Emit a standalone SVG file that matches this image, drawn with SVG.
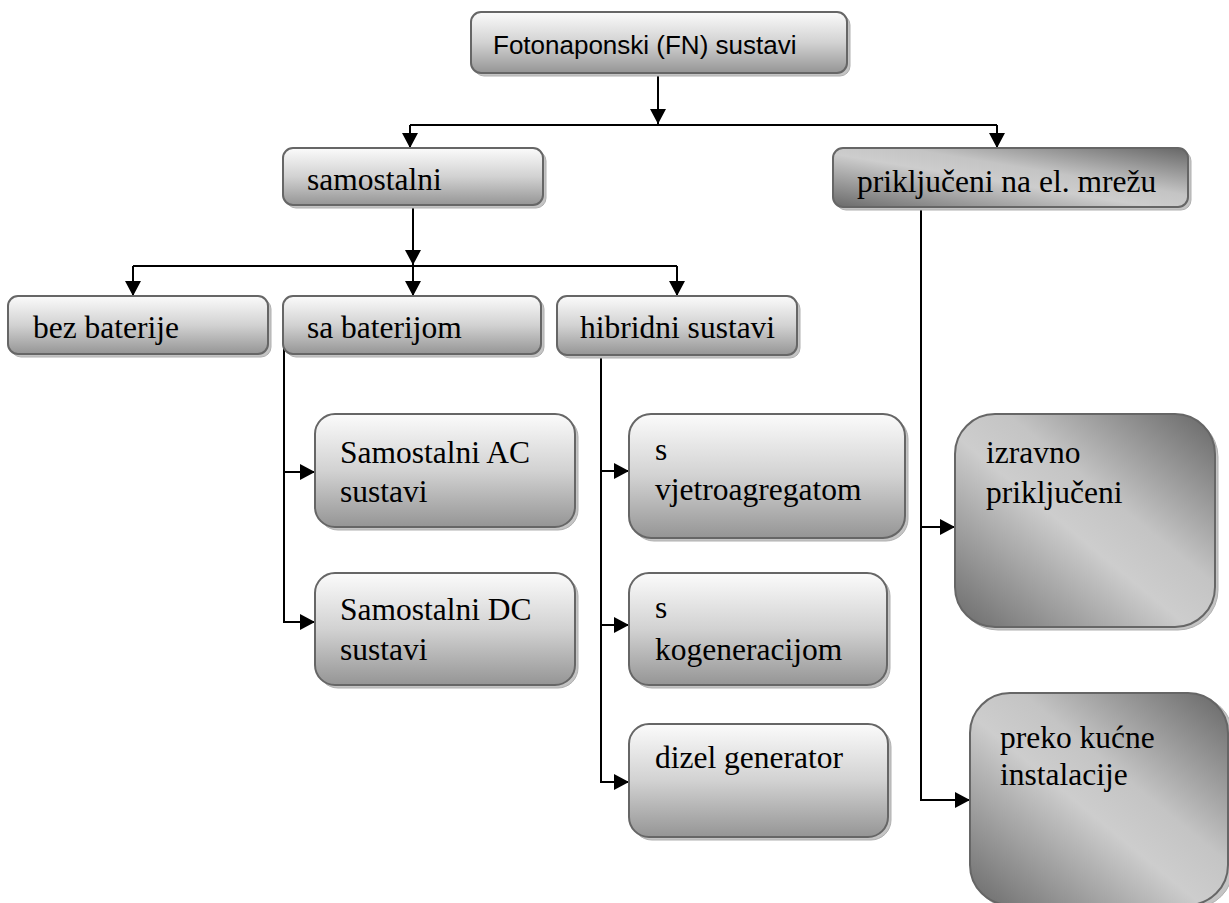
<svg xmlns="http://www.w3.org/2000/svg" width="1229" height="903" viewBox="0 0 1229 903">
<style>
.box{stroke:#666;stroke-width:2;fill:url(#gv)}
.dbox{stroke:#666;stroke-width:2;fill:url(#gd)}
.sh{fill:#c4c4c4;stroke:#b0b0b0;stroke-width:1}
.t{font-family:"Liberation Serif","Times New Roman",serif;font-size:31.5px;fill:#000}
.ts{font-family:"Liberation Sans",Arial,sans-serif;font-size:26px;fill:#000}
.c{fill:none;stroke:#000;stroke-width:2}
.a{marker-end:url(#ah)}
</style>
<defs>
<linearGradient id="gv" x1="0" y1="0" x2="0" y2="1">
<stop offset="0" stop-color="#fbfbfb"/>
<stop offset="0.5" stop-color="#d2d2d2"/>
<stop offset="1" stop-color="#959595"/>
</linearGradient>
<linearGradient id="gd" x1="0" y1="1" x2="1" y2="0">
<stop offset="0" stop-color="#6a6a6a"/>
<stop offset="0.45" stop-color="#cdcdcd"/>
<stop offset="0.6" stop-color="#c4c4c4"/>
<stop offset="1" stop-color="#666"/>
</linearGradient>
<marker id="ah" markerUnits="userSpaceOnUse" markerWidth="16" markerHeight="16" refX="15" refY="8" orient="auto">
<path d="M0,0 L15,8 L0,16 z" fill="#000"/>
</marker>
</defs>

<g id="connectors">
<path class="c a" d="M658,73 V124"/>
<path class="c" d="M410,125 H997"/>
<path class="c a" d="M410,125 V148"/>
<path class="c a" d="M997,125 V148"/>
<path class="c a" d="M413,206 V265"/>
<path class="c" d="M133,266 H677"/>
<path class="c a" d="M133,266 V296"/>
<path class="c a" d="M413,266 V296"/>
<path class="c a" d="M677,266 V296"/>
<path class="c a" d="M284,337 V622 H315"/>
<path class="c a" d="M284,472 H315"/>
<path class="c a" d="M601,355 V782 H629"/>
<path class="c a" d="M601,471 H629"/>
<path class="c a" d="M601,625 H629"/>
<path class="c a" d="M921,207 V800 H970"/>
<path class="c a" d="M921,527 H955"/>
</g>

<g id="n-top">
<rect class="sh" x="474" y="15" width="376" height="61" rx="10"/>
<rect class="box" x="471" y="12" width="376" height="61" rx="10"/>
<text class="ts" x="493" y="54">Fotonaponski (FN) sustavi</text>
</g>

<g id="n-samostalni">
<rect class="sh" x="286" y="151" width="260" height="57" rx="10"/>
<rect class="box" x="283" y="148" width="260" height="57" rx="10"/>
<text class="t" x="307" y="190">samostalni</text>
</g>

<g id="n-prikljuceni">
<rect class="sh" x="836" y="151" width="355" height="59" rx="10"/>
<rect class="dbox" x="833" y="148" width="355" height="59" rx="10"/>
<text class="t" x="857" y="192">priključeni na el. mrežu</text>
</g>

<g id="n-bez">
<rect class="sh" x="11" y="299" width="260" height="58" rx="10"/>
<rect class="box" x="8" y="296" width="260" height="58" rx="10"/>
<text class="t" x="33" y="338">bez baterije</text>
</g>

<g id="n-sa">
<rect class="sh" x="286" y="299" width="258" height="58" rx="10"/>
<rect class="box" x="283" y="296" width="258" height="58" rx="10"/>
<text class="t" x="307" y="338">sa baterijom</text>
</g>

<g id="n-hibridni">
<rect class="sh" x="560" y="299" width="240" height="59" rx="10"/>
<rect class="box" x="557" y="296" width="240" height="59" rx="10"/>
<text class="t" x="580" y="338">hibridni sustavi</text>
</g>

<g id="n-ac">
<rect class="sh" x="318" y="417" width="260" height="113" rx="20"/>
<rect class="box" x="315" y="414" width="260" height="113" rx="20"/>
<text class="t" x="340" y="463">Samostalni AC</text>
<text class="t" x="340" y="502">sustavi</text>
</g>

<g id="n-dc">
<rect class="sh" x="318" y="576" width="260" height="112" rx="20"/>
<rect class="box" x="315" y="573" width="260" height="112" rx="20"/>
<text class="t" x="340" y="620">Samostalni DC</text>
<text class="t" x="340" y="660">sustavi</text>
</g>

<g id="n-vjetro">
<rect class="sh" x="632" y="417" width="276" height="124" rx="22"/>
<rect class="box" x="629" y="414" width="276" height="124" rx="22"/>
<text class="t" x="655" y="460">s</text>
<text class="t" x="655" y="500">vjetroagregatom</text>
</g>

<g id="n-kogen">
<rect class="sh" x="632" y="576" width="258" height="112" rx="20"/>
<rect class="box" x="629" y="573" width="258" height="112" rx="20"/>
<text class="t" x="655" y="618">s</text>
<text class="t" x="655" y="660">kogeneracijom</text>
</g>

<g id="n-dizel">
<rect class="sh" x="632" y="727" width="259" height="113" rx="20"/>
<rect class="box" x="629" y="724" width="259" height="113" rx="20"/>
<text class="t" x="655" y="768">dizel generator</text>
</g>

<g id="n-izravno">
<rect class="sh" x="958" y="417" width="260" height="213" rx="40"/>
<rect class="dbox" x="955" y="414" width="260" height="213" rx="40"/>
<text class="t" x="986" y="463">izravno</text>
<text class="t" x="986" y="503">priključeni</text>
</g>

<g id="n-preko">
<rect class="sh" x="973" y="696" width="260" height="212" rx="40"/>
<rect class="dbox" x="970" y="693" width="258" height="212" rx="40"/>
<text class="t" x="1000" y="748">preko kućne</text>
<text class="t" x="1000" y="785">instalacije</text>
</g>
</svg>
